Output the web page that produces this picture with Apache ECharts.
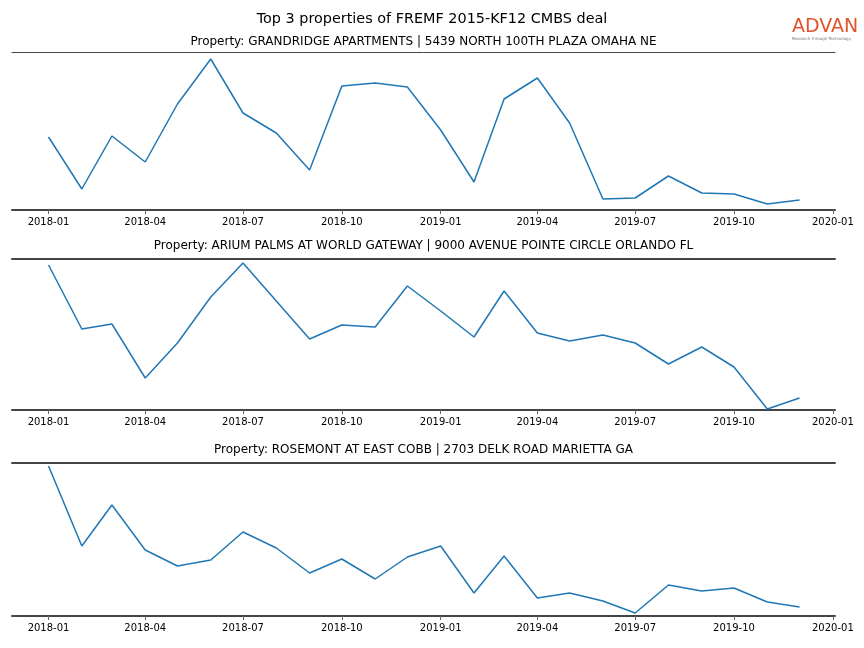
<!DOCTYPE html>
<html>
<head>
<meta charset="utf-8">
<script src="https://cdn.jsdelivr.net/npm/echarts@6/dist/echarts.min.js"></script>
<style>html,body{margin:0;padding:0;background:#fff}#c{width:864px;height:648px}</style>
</head>
<body>
<div id="c"></div>
<script>
const months = ['2018-01','2018-02','2018-03','2018-04','2018-05','2018-06','2018-07','2018-08','2018-09','2018-10','2018-11','2018-12',
                '2019-01','2019-02','2019-03','2019-04','2019-05','2019-06','2019-07','2019-08','2019-09','2019-10','2019-11','2019-12'];
const tickLabels = ['2018-01','2018-04','2018-07','2018-10','2019-01','2019-04','2019-07','2019-10','2020-01'];
const mainTitle = 'Top 3 properties of FREMF 2015-KF12 CMBS deal';
const titles = [
  'Property: GRANDRIDGE APARTMENTS | 5439 NORTH 100TH PLAZA OMAHA NE',
  'Property: ARIUM PALMS AT WORLD GATEWAY | 9000 AVENUE POINTE CIRCLE ORLANDO FL',
  'Property: ROSEMONT AT EAST COBB | 2703 DELK ROAD MARIETTA GA'
];
const grandridge = [73,21,74,48,106,151,97,77,40,124,127,123,80,28,111,132,87,11,12,34,17,16,6,10];
const ariumPalms = [145,81,86,32,67,113,147,109,71,85,83,124,99,73,119,77,69,75,67,46,63,43,1,12];
const rosemont  = [150,70,111,66,50,56,84,68,43,57,37,59,70,23,60,18,23,15,3,31,25,28,14,9];
const yRanges = [[0,158],[0,151],[0,153]];
const xRange = ['2017-11-28','2020-01-03'];

const seriesData = [grandridge, ariumPalms, rosemont];
const grids = [
  {left: 12, right: 29, top: 52, height: 158},
  {left: 12, right: 29, top: 259, height: 151},
  {left: 12, right: 29, top: 463, height: 153}
];
const topSpineWidth = [1, 2, 2];
const titleY = [42, 246, 450];
const toTs = s => { const p = s.split('-').map(Number); return Date.UTC(p[0], p[1]-1, p[2] || 1); };
const tickTs = tickLabels.map(toTs);
const fmt = v => { const d = new Date(v); return d.getUTCFullYear() + '-' + String(d.getUTCMonth()+1).padStart(2,'0'); };

const xAxes = [], yAxes = [], series = [];
grids.forEach((g, i) => {
  xAxes.push({
    type: 'value', gridIndex: i, position: 'bottom',
    min: toTs(xRange[0]), max: toTs(xRange[1]),
    axisLine: {show: true, onZero: false, lineStyle: {color: '#444', width: 2}},
    axisTick: {show: true, customValues: tickTs, length: 4, inside: false, lineStyle: {color: '#666', width: 1}},
    axisLabel: {show: true, customValues: tickTs, formatter: fmt, color: '#000', fontSize: 10, fontFamily: 'DejaVu Sans', margin: 7, hideOverlap: false, showMinLabel: true, showMaxLabel: true},
    splitLine: {show: false}
  });
  xAxes.push({
    type: 'value', gridIndex: i, position: 'top',
    min: toTs(xRange[0]), max: toTs(xRange[1]),
    axisLine: {show: true, onZero: false, lineStyle: {color: '#444', width: topSpineWidth[i]}},
    axisTick: {show: false}, axisLabel: {show: false}, splitLine: {show: false}
  });
  yAxes.push({
    type: 'value', gridIndex: i, min: yRanges[i][0], max: yRanges[i][1],
    show: false, splitLine: {show: false}
  });
  series.push({
    type: 'line', xAxisIndex: i*2, yAxisIndex: i,
    data: months.map((m, k) => [toTs(m), seriesData[i][k]]),
    showSymbol: false, symbol: 'none',
    lineStyle: {color: '#1f77b4', width: 1.5},
    animation: false
  });
});

const chart = echarts.init(document.getElementById('c'), null, {renderer: 'canvas'});
chart.setOption({
  backgroundColor: '#fff',
  animation: false,
  title: [
    {text: mainTitle, left: 'center', top: 7, textStyle: {fontFamily: 'DejaVu Sans', fontSize: 14.4, fontWeight: 'normal', color: '#000'}}
  ],
  grid: grids,
  xAxis: xAxes,
  yAxis: yAxes,
  series: series,
  graphic: titles.map((t, i) => ({
    type: 'text', x: 423.5, y: titleY[i],
    style: {text: t, textAlign: 'center', textVerticalAlign: 'middle', font: '12px "DejaVu Sans"', fill: '#000'}
  })).concat([
    {type: 'text', left: 792, top: 18, style: {text: 'ADVAN', font: '19px "DejaVu Sans"', fill: '#e0542a'}},
    {type: 'text', left: 792, top: 37, style: {text: 'Research through Technology', font: '4px "DejaVu Sans"', fill: '#777'}}
  ])
});
</script>
</body>
</html>
